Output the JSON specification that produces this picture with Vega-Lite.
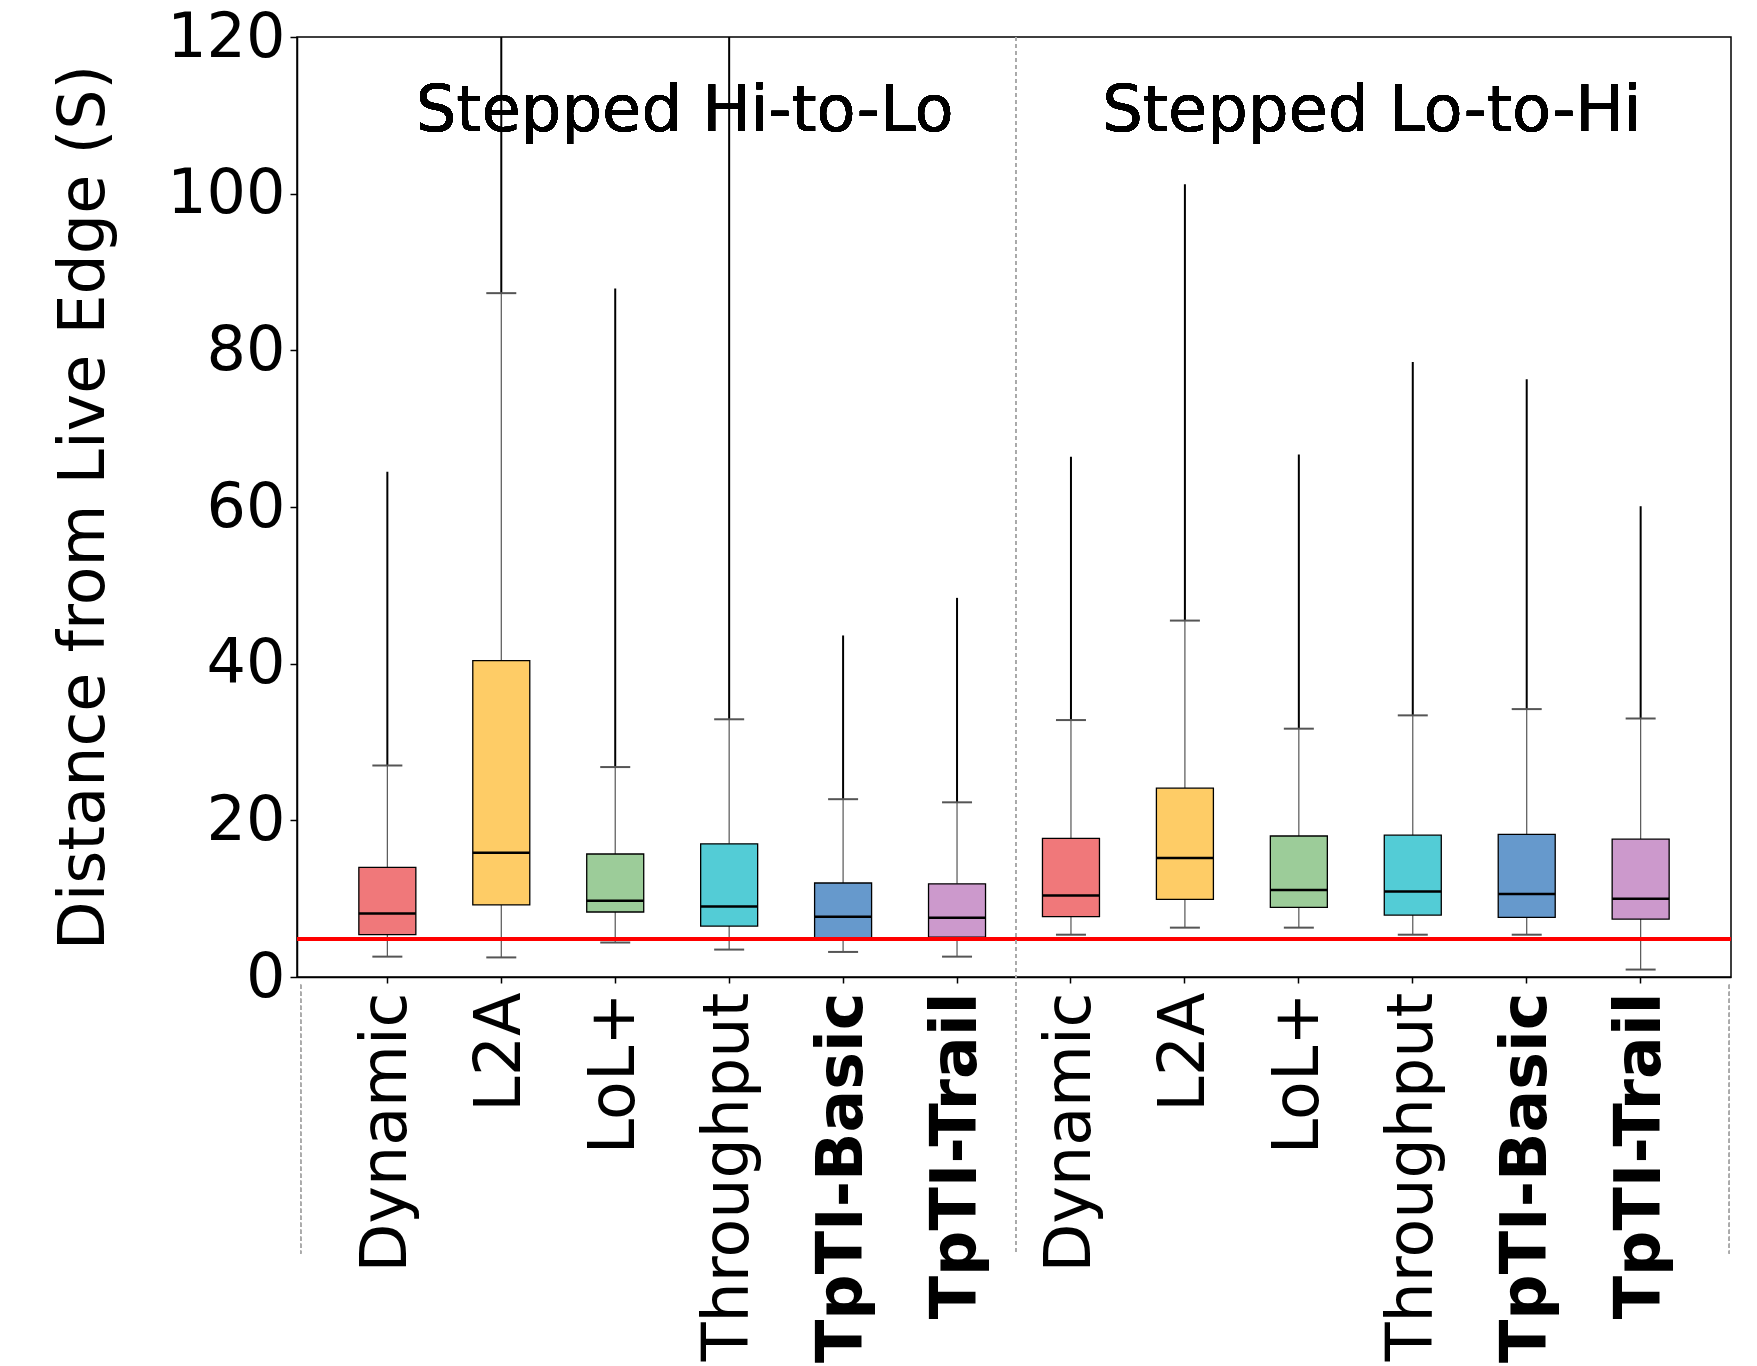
{
  "$schema": "https://vega.github.io/schema/vega-lite/v6.json",
  "autosize": {"type": "none"},
  "padding": {"left": 297, "top": 37, "right": 26, "bottom": 389},
  "width": 1434,
  "height": 940,
  "background": "white",
  "data": {"values": [
    {"box": "Hi-to-Lo|Dynamic", "method": "Dynamic", "lo": 2.6, "q1": 5.4, "median": 8.1, "q3": 14.0, "hi": 27.0, "max": 64.5},
    {"box": "Hi-to-Lo|L2A", "method": "L2A", "lo": 2.5, "q1": 9.2, "median": 15.85, "q3": 40.4, "hi": 87.3, "max": 120},
    {"box": "Hi-to-Lo|LoL+", "method": "LoL+", "lo": 4.4, "q1": 8.3, "median": 9.75, "q3": 15.7, "hi": 26.8, "max": 87.9},
    {"box": "Hi-to-Lo|Throughput", "method": "Throughput", "lo": 3.5, "q1": 6.5, "median": 9.0, "q3": 17.0, "hi": 32.9, "max": 120},
    {"box": "Hi-to-Lo|TpTI-Basic", "method": "TpTI-Basic", "lo": 3.2, "q1": 4.9, "median": 7.7, "q3": 12.0, "hi": 22.7, "max": 43.6},
    {"box": "Hi-to-Lo|TpTI-Trail", "method": "TpTI-Trail", "lo": 2.6, "q1": 5.1, "median": 7.55, "q3": 11.9, "hi": 22.3, "max": 48.4},
    {"box": "Lo-to-Hi|Dynamic", "method": "Dynamic", "lo": 5.4, "q1": 7.7, "median": 10.4, "q3": 17.7, "hi": 32.8, "max": 66.4},
    {"box": "Lo-to-Hi|L2A", "method": "L2A", "lo": 6.3, "q1": 9.9, "median": 15.2, "q3": 24.1, "hi": 45.5, "max": 101.2},
    {"box": "Lo-to-Hi|LoL+", "method": "LoL+", "lo": 6.3, "q1": 8.9, "median": 11.1, "q3": 18.0, "hi": 31.7, "max": 66.7},
    {"box": "Lo-to-Hi|Throughput", "method": "Throughput", "lo": 5.4, "q1": 7.9, "median": 10.9, "q3": 18.1, "hi": 33.4, "max": 78.5},
    {"box": "Lo-to-Hi|TpTI-Basic", "method": "TpTI-Basic", "lo": 5.4, "q1": 7.6, "median": 10.6, "q3": 18.2, "hi": 34.2, "max": 76.3},
    {"box": "Lo-to-Hi|TpTI-Trail", "method": "TpTI-Trail", "lo": 0.95, "q1": 7.4, "median": 10.0, "q3": 17.6, "hi": 33.0, "max": 60.1}
  ]},
  "layer": [
    {
      "mark": {"type": "rule", "color": "black", "strokeWidth": 2},
      "encoding": {
        "x": {"field": "box", "type": "nominal", "title": null,
          "scale": {"domain": ["Hi-to-Lo|Dynamic","Hi-to-Lo|L2A","Hi-to-Lo|LoL+","Hi-to-Lo|Throughput","Hi-to-Lo|TpTI-Basic","Hi-to-Lo|TpTI-Trail","Lo-to-Hi|Dynamic","Lo-to-Hi|L2A","Lo-to-Hi|LoL+","Lo-to-Hi|Throughput","Lo-to-Hi|TpTI-Basic","Lo-to-Hi|TpTI-Trail"], "paddingInner": 0, "paddingOuter": 0.293},
          "axis": {
            "labelExpr": "split(datum.value,'|')[1]",
            "labelAngle": -90,
            "labelAlign": "right",
            "labelBaseline": "middle",
            "labelFontSize": 63.5,
            "labelFontWeight": {"condition": {"test": "indexof(datum.value,'TpTI')>=0", "value": "bold"}, "value": "normal"},
            "labelPadding": 9,
            "tickSize": 6,
            "labelOverlap": false,
            "labelLimit": 0
          }
        },
        "y": {"field": "hi", "type": "quantitative", "title": "Distance from Live Edge (S)",
          "scale": {"domain": [0, 120], "nice": false, "zero": false},
          "axis": {
            "values": [0, 20, 40, 60, 80, 100, 120],
            "labelFontSize": 62,
            "tickSize": 7,
            "labelPadding": 5,
            "titleFontSize": 63.5,
            "titleFontWeight": "normal",
            "titleAngle": -90,
            "titleX": -194,
            "titleY": 470,
            "titleAlign": "center",
            "titleBaseline": "alphabetic"
          }
        },
        "y2": {"field": "max"}
      }
    },
    {
      "mark": {"type": "rule", "color": "#555555", "strokeWidth": 1.2},
      "encoding": {
        "x": {"field": "box", "type": "nominal", "title": null},
        "y": {"field": "q3", "type": "quantitative", "title": "Distance from Live Edge (S)"},
        "y2": {"field": "hi"}
      }
    },
    {
      "mark": {"type": "rule", "color": "#555555", "strokeWidth": 1.2},
      "encoding": {
        "x": {"field": "box", "type": "nominal", "title": null},
        "y": {"field": "lo", "type": "quantitative", "title": "Distance from Live Edge (S)"},
        "y2": {"field": "q1"}
      }
    },
    {
      "mark": {"type": "tick", "color": "#555555", "size": 30, "thickness": 2, "opacity": 1},
      "encoding": {
        "x": {"field": "box", "type": "nominal", "title": null},
        "y": {"field": "hi", "type": "quantitative", "title": "Distance from Live Edge (S)"}
      }
    },
    {
      "mark": {"type": "tick", "color": "#555555", "size": 30, "thickness": 2, "opacity": 1},
      "encoding": {
        "x": {"field": "box", "type": "nominal", "title": null},
        "y": {"field": "lo", "type": "quantitative", "title": "Distance from Live Edge (S)"}
      }
    },
    {
      "mark": {"type": "bar", "size": 57, "stroke": "black", "strokeWidth": 1.3, "opacity": 1},
      "encoding": {
        "x": {"field": "box", "type": "nominal", "title": null},
        "y": {"field": "q1", "type": "quantitative", "title": "Distance from Live Edge (S)"},
        "y2": {"field": "q3"},
        "color": {"field": "method", "type": "nominal", "legend": null,
          "scale": {"domain": ["Dynamic", "L2A", "LoL+", "Throughput", "TpTI-Basic", "TpTI-Trail"],
                    "range": ["#F0787A", "#FECC66", "#9CCC99", "#53CCD6", "#6699CC", "#CC99CC"]}}
      }
    },
    {
      "mark": {"type": "tick", "color": "black", "size": 57, "thickness": 2.5, "opacity": 1},
      "encoding": {
        "x": {"field": "box", "type": "nominal", "title": null},
        "y": {"field": "median", "type": "quantitative", "title": "Distance from Live Edge (S)"}
      }
    },
    {
      "mark": {"type": "rule", "color": "red", "strokeWidth": 3},
      "encoding": {
        "y": {"datum": 4.86, "type": "quantitative"}
      }
    },
    {
      "mark": {"type": "rule", "color": "#aaaaaa", "strokeWidth": 1, "strokeDash": [4, 3], "xOffset": 58.7},
      "encoding": {
        "x": {"datum": "Hi-to-Lo|TpTI-Trail", "type": "nominal"},
        "y": {"datum": 120, "type": "quantitative"},
        "y2": {"datum": -35.3}
      }
    },
    {
      "mark": {"type": "rule", "color": "#aaaaaa", "strokeWidth": 1, "strokeDash": [4, 3], "xOffset": -86.6},
      "encoding": {
        "x": {"datum": "Hi-to-Lo|Dynamic", "type": "nominal"},
        "y": {"datum": -1, "type": "quantitative"},
        "y2": {"datum": -35.3}
      }
    },
    {
      "mark": {"type": "rule", "color": "#aaaaaa", "strokeWidth": 1, "strokeDash": [4, 3], "xOffset": 88.6},
      "encoding": {
        "x": {"datum": "Lo-to-Hi|TpTI-Trail", "type": "nominal"},
        "y": {"datum": -1, "type": "quantitative"},
        "y2": {"datum": -35.3}
      }
    },
    {
      "mark": {"type": "text", "text": "Stepped Hi-to-Lo", "font": "DejaVu Sans", "fontSize": 64, "align": "center", "baseline": "alphabetic", "color": "black", "xOffset": -44.5},
      "encoding": {
        "x": {"datum": "Hi-to-Lo|Throughput", "type": "nominal"},
        "y": {"datum": 108, "type": "quantitative"}
      }
    },
    {
      "mark": {"type": "text", "text": "Stepped Lo-to-Hi", "font": "DejaVu Sans", "fontSize": 64, "align": "center", "baseline": "alphabetic", "color": "black", "xOffset": -41},
      "encoding": {
        "x": {"datum": "Lo-to-Hi|Throughput", "type": "nominal"},
        "y": {"datum": 108, "type": "quantitative"}
      }
    }
  ],
  "config": {
    "view": {"stroke": "black", "strokeWidth": 1.5},
    "axis": {
      "labelFont": "DejaVu Sans",
      "titleFont": "DejaVu Sans",
      "labelColor": "black",
      "titleColor": "black",
      "domainColor": "black",
      "tickColor": "black",
      "domainWidth": 1.5,
      "tickWidth": 1.5,
      "grid": false
    }
  }
}
